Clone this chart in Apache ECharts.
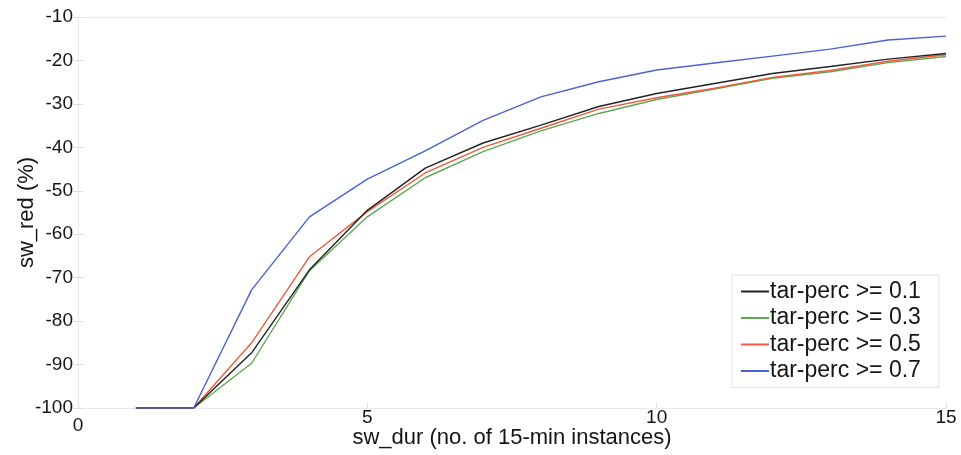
<!DOCTYPE html>
<html>
<head>
<meta charset="utf-8">
<script src="https://cdn.jsdelivr.net/npm/echarts@6/dist/echarts.min.js"></script>
<style>html,body{margin:0;padding:0;background:#fff;}#c{width:961px;height:455px;}</style>
</head>
<body>
<div id="c"></div>
<script>
const xValues = [1, 2, 3, 4, 5, 6, 7, 8, 9, 10, 11, 12, 13, 14, 15];
const s01 = [-100, -100, -87.3, -68.2, -54.5, -44.8, -39.0, -34.9, -30.6, -27.6, -25.3, -23.0, -21.4, -19.7, -18.4];
const s03 = [-100, -100, -89.7, -68.4, -56.0, -47.0, -41.0, -36.2, -32.2, -29.0, -26.6, -24.1, -22.6, -20.5, -19.1];
const s05 = [-100, -100, -85.0, -65.2, -54.8, -45.9, -40.0, -35.6, -31.2, -28.6, -26.4, -23.9, -22.3, -20.2, -18.7];
const s07 = [-100, -100, -72.8, -56.0, -47.3, -40.8, -33.8, -28.4, -24.9, -22.2, -20.6, -19.0, -17.4, -15.3, -14.4];
const seriesNames = ['tar-perc >= 0.1', 'tar-perc >= 0.3', 'tar-perc >= 0.5', 'tar-perc >= 0.7'];
const seriesColors = ['#222222', '#5fa853', '#ee5a3c', '#4a62d6'];
const seriesData = [s01, s03, s05, s07];

const chart = echarts.init(document.getElementById('c'));
const font = '"Liberation Sans", Arial, sans-serif';
const txt = '#151515';
const frame = { show: true, lineStyle: { color: '#eaeaea' } };
const tick = { show: true, inside: true, length: 5, lineStyle: { color: '#dcdcdc' } };
chart.setOption({
  animation: false,
  backgroundColor: '#fff',
  grid: { left: 78, right: 15, top: 17, bottom: 47, containLabel: false, outerBoundsMode: 'none' },
  legend: {
    orient: 'vertical',
    left: 732, top: 275,
    padding: [5, 18, 5, 9],
    itemGap: 3.5,
    itemWidth: 28, itemHeight: 2,
    backgroundColor: '#fff',
    borderColor: '#e2e2e2', borderWidth: 1,
    textStyle: { fontFamily: font, fontSize: 23, lineHeight: 23, color: txt, padding: [0, 0, 0, -4] },
    data: seriesNames.map((n, i) => ({ name: n, icon: 'rect', itemStyle: { color: seriesColors[i] } }))
  },
  xAxis: [{
    type: 'value', min: 0, max: 15, interval: 5,
    name: 'sw_dur (no. of 15-min instances)',
    nameLocation: 'middle', nameGap: 19, nameMoveOverlap: false,
    nameTextStyle: { fontFamily: font, fontSize: 22, color: txt },
    axisLine: frame,
    axisTick: tick,
    axisLabel: {
      fontFamily: font, fontSize: 19, color: txt, margin: 0,
      formatter: v => v === 0 ? '{z|0}' : String(v),
      rich: { z: { fontFamily: font, fontSize: 19, color: txt, padding: [8, 0, 0, 0] } }
    },
    splitLine: { show: false }
  }, {
    type: 'value', min: 0, max: 15, interval: 5, position: 'top',
    axisLine: frame, axisTick: { show: false }, axisLabel: { show: false }, splitLine: { show: false }
  }],
  yAxis: [{
    type: 'value', min: -100, max: -10, interval: 10,
    name: 'sw_red (%)',
    nameLocation: 'middle', nameGap: 40, nameMoveOverlap: false,
    nameTextStyle: { fontFamily: font, fontSize: 22, color: txt },
    axisLine: frame,
    axisTick: tick,
    axisLabel: { fontFamily: font, fontSize: 19, color: txt, margin: 5 },
    splitLine: { show: false }
  }, {
    type: 'value', min: -100, max: -10, interval: 10, position: 'right',
    axisLine: frame, axisTick: tick, axisLabel: { show: false }, splitLine: { show: false }
  }],
  series: seriesData.map((d, i) => ({
    name: seriesNames[i],
    type: 'line',
    data: xValues.map((x, j) => [x, d[j]]),
    showSymbol: false,
    color: seriesColors[i],
    lineStyle: { width: 1.4, color: seriesColors[i] },
    z: 2 + (i === 0 ? 3 : i)
  }))
});
</script>
</body>
</html>
